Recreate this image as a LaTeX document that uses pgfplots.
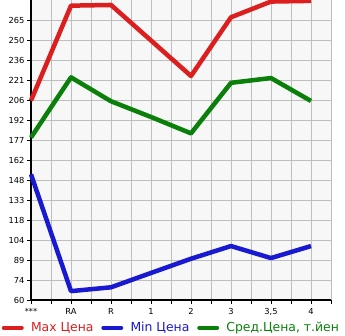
\documentclass[border=0pt]{standalone}
\usepackage{fontspec}
\setmainfont{DejaVu Sans}
\usepackage{pgfplots}
\pgfplotsset{compat=1.18}
\definecolor{cred}{RGB}{220,30,30}
\definecolor{cblue}{RGB}{25,25,210}
\definecolor{cgreen}{RGB}{10,128,10}
\definecolor{cgrid}{RGB}{190,190,190}
\definecolor{cbg}{RGB}{247,247,247}
\begin{document}
\begin{tikzpicture}[x=1pt,y=1pt]
\useasboundingbox (-31,-35) rectangle (314,300);
\begin{axis}[
  scale only axis, width=300pt, height=300pt,
  xmin=0, xmax=7.5, ymin=60, ymax=279.64,
  axis background/.style={fill=cbg},
  axis x line*=bottom, axis y line*=left,
  axis line style={line width=1.6pt, -},
  xtick={0,...,7}, minor xtick={0.5,1.5,...,7.5},
  xticklabels={***,RA,R,1,2,3,{3,5},4},
  ytick={60,74.64,89.29,103.93,118.57,133.21,147.86,162.5,177.14,191.79,206.43,221.07,235.71,250.36,265},
  yticklabels={60,74,89,104,118,133,148,162,177,192,206,221,236,250,265},
  grid=both,
  grid style={cgrid, line width=0.8pt},
  minor grid style={cgrid, line width=0.8pt},
  tick align=outside,
  major tick length=4pt, minor tick length=4pt,
  tick style={black, line width=0.8pt},
  ticklabel style={font=\fontsize{8.3}{9}\selectfont},
  /pgf/number format/assume math mode=true,
  xticklabel style={yshift=-1pt},
  yticklabel style={xshift=1pt},
  legend columns=-1,
  legend style={at={(-0.105,-0.093)}, anchor=west, draw=none, fill=none,
    inner sep=0pt, outer sep=0pt,
    nodes={inner sep=0pt},
    font=\fontsize{12.4}{14}\selectfont,
    /tikz/every odd column/.append style={column sep=5pt},
    /tikz/every even column/.append style={column sep=5.5pt}},
  legend image code/.code={\draw[#1, line width=4.5pt, line cap=round] (2.25pt,0pt) -- (19.75pt,0pt);\path (0pt,0pt) (22pt,0pt);},
  every axis plot/.append style={line width=4.5pt, line join=round},
  clip=false,
]
\addplot[cred] coordinates {(0,206) (1,275.5) (2,276) (3,250) (4,224) (5,267) (6,278.5) (7,279)};
\addlegendentry{\textcolor{cred}{Max Цена}}
\addplot[cblue] coordinates {(0,152) (1,66.5) (2,69.3) (3,79.8) (4,90.2) (5,99.5) (6,90.7) (7,99.5)};
\addlegendentry{\textcolor{cblue}{Min Цена}}
\addplot[cgreen] coordinates {(0,179) (1,223) (2,205.5) (3,194) (4,182) (5,219) (6,222.5) (7,205.7)};
\addlegendentry{\textcolor{cgreen}{Сред.Цена, т.йен}}
\end{axis}
\end{tikzpicture}
\end{document}
